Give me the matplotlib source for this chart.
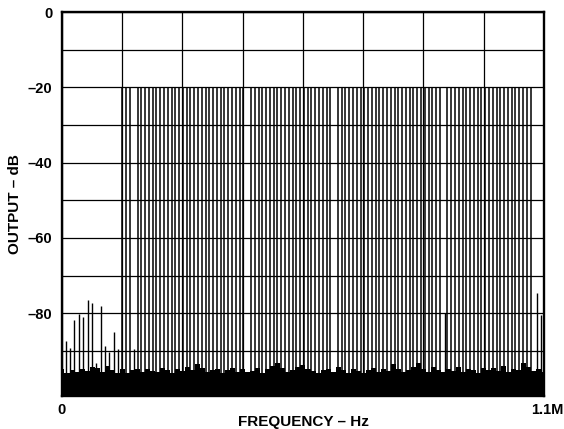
import numpy as np
import matplotlib as mpl
mpl.use('Agg')
import matplotlib.pyplot as plt
import matplotlib.transforms as mtransforms

# multitone test signal: DMT bins, every other bin (8.625 kHz), empty bins left out
tone_start = 138.0e3
tone_step = 8.625e3
tone_groups = [(0, 2), (4, 32), (34, 55), (57, 84), (86, 108)]
tone_level = -20.0

# small spurs: low band distortion, empty bins, upper band-edge products
spur_freq = [8.4e3, 18.3e3, 27.4e3, 38.1e3, 47.9e3, 58.7e3, 67.8e3, 77.6e3,
             88.3e3, 98.8e3, 108.4e3, 118.7e3, 127.1e3, 165.0e3, 874.0e3,
             1083.3e3, 1093.2e3]
spur_db = [-87.4, -89.2, -81.9, -80.2, -81.0, -76.5, -77.3, -93.2,
           -78.0, -88.6, -90.3, -84.9, -89.6, -89.6, -80.0,
           -74.7, -80.5]

# noise floor envelope, read every ~11.5 kHz from 0 to 1.1 MHz
noise_db = [-94.8, -96.0, -95.2, -95.5, -94.9, -95.3, -94.3, -94.6, -95.6, -93.9, -95.0, -95.8, -94.7,
            -95.9, -95.2, -94.8, -95.6, -94.9, -95.3, -95.7, -94.6, -95.1, -95.8, -94.7, -95.4,
            -94.2, -95.0, -93.6, -94.5, -95.6, -95.2, -94.8, -95.9, -95.1, -94.6, -95.5, -94.9, -95.7,
            -95.3, -94.5, -95.8, -94.9, -94.0, -93.2, -94.6, -95.6, -95.0, -94.3, -93.8, -94.9, -95.4,
            -95.9, -95.1, -94.8, -95.5, -94.4, -95.0, -95.8, -94.7, -95.3, -96.0, -95.2, -94.6, -95.5,
            -94.7, -95.3, -93.4, -94.8, -95.6, -95.0, -94.2, -93.3, -94.9, -95.5, -94.4, -95.1, -95.7,
            -94.9, -95.4, -94.3, -95.6, -94.7, -95.2, -95.8, -94.5, -95.0, -94.6, -95.3, -94.1,
            -95.5, -94.8, -95.0, -93.2, -94.4, -95.3, -94.7, -95.6]

f_max = 1.1e6
y_min = -102.0

tone_bins = np.concatenate([np.arange(a, b + 1) for a, b in tone_groups])
tone_freq = tone_start + tone_bins * tone_step
noise_freq = np.linspace(0, f_max, len(noise_db))

plt.rcParams['font.family'] = ['Liberation Sans', 'DejaVu Sans']
plt.rcParams['font.weight'] = 'bold'

fig = plt.figure(figsize=(5.64, 4.29), dpi=100)
ax = fig.add_axes([0.1099, 0.0769, 0.8546, 0.8951])

ax.fill_between(noise_freq, y_min, noise_db, step='mid', color='black', lw=0, zorder=3)
ax.vlines(tone_freq, y_min, tone_level, color='black', lw=1.1, zorder=3)
ax.vlines(spur_freq, y_min, spur_db, color='black', lw=1.0, zorder=3)

ax.set_xlim(0, f_max)
ax.set_ylim(y_min, 0)

ax.set_xticks(np.linspace(0, f_max, 9))
ax.set_xticklabels(['0', '', '', '', '', '', '', '', '1.1M'])
ax.set_yticks(np.arange(-90, 1, 10))
ax.set_yticklabels(['' if v % 20 else f'{v}'.replace('-', '\u2013') for v in range(-90, 1, 10)])
ax.tick_params(length=0, labelsize=10.5)
ax.tick_params(axis='x', pad=5)
ax.tick_params(axis='y', pad=7)
ax.grid(True, color='black', lw=0.9, zorder=1)
ax.set_axisbelow(True)

# nudge the right end label a little, as in the original
last = ax.get_xticklabels()[-1]
last.set_transform(last.get_transform() + mtransforms.ScaledTranslation(3 / 100, 0, fig.dpi_scale_trans))

for sp in ax.spines.values():
    sp.set_linewidth(1.7)
    sp.set_zorder(4)

ax.set_xlabel('FREQUENCY \u2013 Hz', fontsize=11, fontweight='bold')
ax.xaxis.set_label_coords(0.5, -0.068)
ax.xaxis.label.set_va('center')
ax.set_ylabel('OUTPUT \u2013 dB', fontsize=11, fontweight='bold')
ax.yaxis.set_label_coords(-0.0975, 0.5)
ax.yaxis.label.set_va('center')

fig.savefig('out.png', dpi=100)
plt.close(fig)
